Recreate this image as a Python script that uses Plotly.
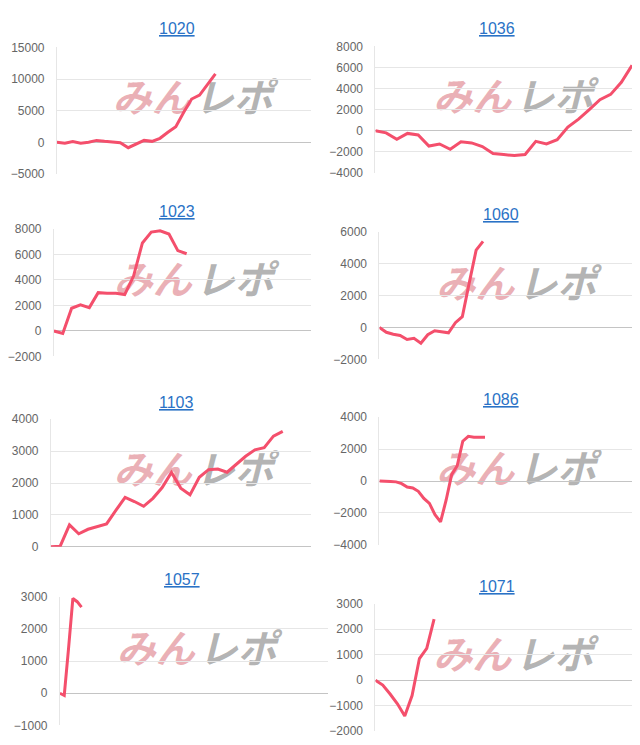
import plotly.graph_objects as go

# ---------------- data ----------------
titles = ["1020", "1036", "1023", "1060", "1103", "1086", "1057", "1071"]

s1020 = [0, -160, 120, -160, 0, 300, 150, 50, -50, -850, -260, 300, 150, 630, 1580,
         2470, 4740, 6840, 7470, 9200, 10800]
s1036 = [0, -200, -800, -250, -400, -1450, -1250, -1750, -1050, -1150, -1500, -2150,
         -2250, -2350, -2250, -1000, -1250, -850, 350, 1100, 2000, 2950, 3450, 4600, 6200]
s1023 = [0, -200, 1780, 2040, 1830, 3000, 2950, 2950, 2850, 4300, 6900, 7750, 7850,
         7600, 6300, 6050]
s1060 = [0, -300, -420, -500, -750, -680, -980, -450, -200, -260, -330, 300, 680,
         2800, 4850, 5400]
s1103 = [0, 20, 690, 410, 550, 640, 720, 1140, 1550, 1420, 1270, 1520, 1860, 2330,
         1840, 1630, 2180, 2420, 2440, 2340, 2600, 2840, 3040, 3110, 3470, 3620]
s1086 = [0, 0, -20, -50, -160, -370, -430, -640, -1090, -1400, -2110, -2560, -1200,
         400, 960, 2500, 2810, 2750, 2750, 2750]
s1057 = [0, -70, 1400, 2950, 2850, 2680]
s1071 = [0, -190, -540, -920, -1400, -600, 850, 1250, 2400]

series = [s1020, s1036, s1023, s1060, s1103, s1086, s1057, s1071]

# label counts (x-axis length) per chart
x_max = [32, 24, 29, 37, 28, 46, 62, 35]
y_ranges = [(-5000, 15000), (-4000, 8000), (-2000, 8000), (-2000, 6000),
            (0, 4000), (-4000, 4000), (-1000, 3000), (-2000, 3000)]
y_dticks = [5000, 2000, 2000, 2000, 1000, 2000, 1000, 1000]

# ---------------- layout geometry (pixels) ----------------
W, H = 640, 745
boxes = [  # left, right, top, bottom
    (48, 302, 33, 162),
    (367, 624, 32, 161),
    (45, 302, 218, 348),
    (371, 627, 221, 351),
    (42, 302, 412, 542),
    (371, 627, 410, 540),
    (51, 319, 593, 724),
    (367, 624, 600, 730),
]
title_pos = [(168, 14), (489, 14), (168, 200), (493, 203),
             (168, 395), (493, 392), (173, 575), (489, 582)]
wm_pos = [(184, 89), (505, 88), (185, 274), (508, 278),
          (185, 468), (508, 467), (188, 650), (505, 657)]

LINE = "#f44f6c"
GRID = "#e6e6e6"
ZERO = "#c4c4c4"
TICK = "#666666"
TITLE = "#2a72c6"

fig = go.Figure()

# watermark overlay (drawn first, under lines)
for (cx, cy) in wm_pos:
    fig.add_trace(go.Scatter(
        x=[cx - 41], y=[cy], mode="text", text=["みん"], xaxis="x", yaxis="y",
        textfont=dict(family="Noto Sans CJK JP", size=39, color="rgba(228,150,158,0.75)",
                      weight="bold", style="italic"),
        hoverinfo="skip", showlegend=False))
    fig.add_trace(go.Scatter(
        x=[cx + 41], y=[cy], mode="text", text=["レポ"], xaxis="x", yaxis="y",
        textfont=dict(family="Noto Sans CJK JP", size=39, color="rgba(160,160,160,0.8)",
                      weight="bold", style="italic"),
        hoverinfo="skip", showlegend=False))

layout = dict(
    width=W, height=H, margin=dict(l=0, r=0, t=0, b=0),
    paper_bgcolor="white", plot_bgcolor="rgba(0,0,0,0)", showlegend=False,
    xaxis=dict(domain=[0, 1], range=[0, W], visible=False, fixedrange=True),
    yaxis=dict(domain=[0, 1], range=[H, 0], visible=False, fixedrange=True),
)

annotations = []
for i, vals in enumerate(series):
    n = i + 2
    xa, ya = f"x{n}", f"y{n}"
    l, r, t, b = boxes[i]
    fig.add_trace(go.Scatter(
        x=list(range(len(vals))), y=vals, mode="lines", xaxis=xa, yaxis=ya,
        line=dict(color=LINE, width=3), hoverinfo="skip", showlegend=False))
    layout[f"xaxis{n}"] = dict(
        domain=[l / W, r / W], range=[0, x_max[i]], showgrid=False, zeroline=False,
        showticklabels=False, showline=False, anchor=ya)
    layout[f"yaxis{n}"] = dict(
        domain=[1 - b / H, 1 - t / H], range=list(y_ranges[i]), dtick=y_dticks[i],
        tick0=0, tickformat="d", showgrid=True, gridcolor=GRID, gridwidth=1,
        zeroline=True, zerolinecolor=ZERO, zerolinewidth=1,
        showline=True, linecolor=GRID, linewidth=1, mirror=False,
        tickfont=dict(family="Liberation Sans", size=12, color=TICK),
        ticklabelstandoff=9, anchor=xa)
    tx, ty = title_pos[i]
    annotations.append(dict(
        text=f"<u>{titles[i]}</u>", xref="paper", yref="paper",
        x=tx / W, y=1 - ty / H, xanchor="center", yanchor="middle", showarrow=False,
        font=dict(family="Liberation Sans", size=16, color=TITLE)))

layout["annotations"] = annotations
fig.update_layout(**layout)
fig.write_html("out.html")
